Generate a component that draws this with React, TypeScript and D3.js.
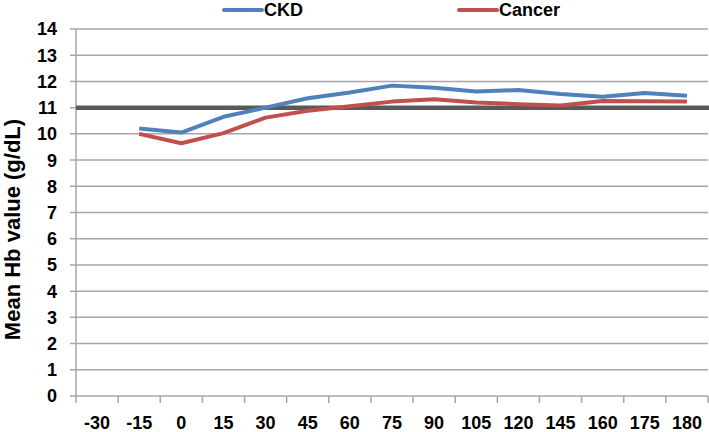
import * as d3 from "d3"

const days = ["-30", "-15", "0", "15", "30", "45", "60", "75", "90", "105", "120", "145", "160", "175", "180"]
// -30 has no measurement
const ckd = [null, 10.2, 10.05, 10.65, 11.0, 11.36, 11.58, 11.84, 11.76, 11.62, 11.67, 11.52, 11.42, 11.56, 11.45]
const cancer = [null, 10.0, 9.64, 10.03, 10.62, 10.88, 11.05, 11.23, 11.32, 11.2, 11.13, 11.08, 11.25, 11.24, 11.23]
const yTicks = [0, 1, 2, 3, 4, 5, 6, 7, 8, 9, 10, 11, 12, 13, 14]
const target = 11

const W = 709
const H = 432
const margin = { top: 29, right: 1, bottom: 36, left: 76 }
const FONT = "'Liberation Sans', Arial, sans-serif"

export default function App() {
  const x = d3
    .scaleBand()
    .domain(days)
    .range([margin.left, W - margin.right])
    .padding(0)
  const y = d3.scaleLinear().domain([0, 14]).range([H - margin.bottom, margin.top])

  const line = d3
    .line<number | null>()
    .defined((d) => d != null)
    .x((_, i) => x(days[i])! + x.bandwidth() / 2)
    .y((d) => y(d as number))

  const series = [
    { name: "CKD", values: ckd, color: "#4F81BD", lx: 224 },
    { name: "Cancer", values: cancer, color: "#C0504D", lx: 459 },
  ]

  const x0 = margin.left
  const x1 = W - margin.right
  const bottom = y(0)

  return (
    <svg width={W} height={H} style={{ position: "absolute", left: 0, top: 0, background: "#fff" }} fontFamily={FONT}>
      {/* grid */}
      {yTicks.map((t) => (
        <g key={t}>
          <line x1={x0 - 6} x2={x1} y1={y(t)} y2={y(t)} stroke="#A6A6A6" strokeWidth={1.5} />
          <text x={57} y={y(t)} dy="0.36em" textAnchor="end" fontSize={18} fontWeight="bold" fill="#000">
            {t}
          </text>
        </g>
      ))}
      {/* axes */}
      <line x1={x0} x2={x0} y1={y(14)} y2={bottom} stroke="#A6A6A6" strokeWidth={1.5} />
      {days.map((d, i) => (
        <g key={d}>
          <line x1={x(d)!} x2={x(d)!} y1={bottom} y2={bottom + 7} stroke="#A6A6A6" strokeWidth={1.5} />
          {i === days.length - 1 && (
            <line x1={x(d)! + x.bandwidth()} x2={x(d)! + x.bandwidth()} y1={bottom} y2={bottom + 7} stroke="#A6A6A6" strokeWidth={1.5} />
          )}
          <text x={x(d)! + x.bandwidth() / 2} y={429} textAnchor="middle" fontSize={18} fontWeight="bold" fill="#000">
            {d}
          </text>
        </g>
      ))}
      {/* reference line at 11 */}
      <line x1={x0} x2={W} y1={y(target)} y2={y(target)} stroke="#595959" strokeWidth={4.5} />
      {/* series */}
      {series.map((s) => (
        <path key={s.name} d={line(s.values)!} fill="none" stroke={s.color} strokeWidth={4} strokeLinejoin="round" />
      ))}
      {/* legend */}
      {series.map((s) => (
        <g key={s.name + "-lg"}>
          <line x1={s.lx} x2={s.lx + 38} y1={10} y2={10} stroke={s.color} strokeWidth={4} strokeLinecap="round" />
          <text x={s.lx + 40} y={10} dy="0.36em" fontSize={18} fontWeight="bold" fill="#000">
            {s.name}
          </text>
        </g>
      ))}
      {/* y title */}
      <text
        transform={`translate(20,${(y(0) + y(14)) / 2 + 17}) rotate(-90)`}
        textAnchor="middle"
        fontSize={22}
        fontWeight="bold"
        fill="#000"
      >
        Mean Hb value (g/dL)
      </text>
    </svg>
  )
}
